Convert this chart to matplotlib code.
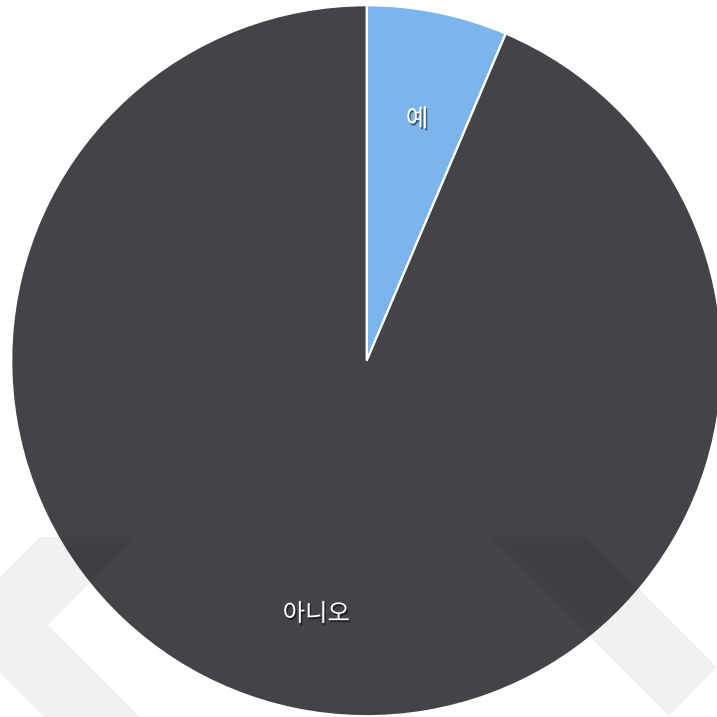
import matplotlib.pyplot as plt
import matplotlib.patheffects as pe
from matplotlib.patches import Polygon
from matplotlib.transforms import Affine2D

plt.rcParams['font.family'] = ['Noto Sans CJK KR', 'DejaVu Sans']

labels = ["예", "아니오"]
values = [6.4, 93.6]
colors = ["#7cb5ec", "#434348"]

W = 717
cx, cy, R = 366.7, 360.7, 355.5  # pie centre / radius in pixels

fig = plt.figure(figsize=(W / 100, W / 100), dpi=100)
ax = fig.add_axes([0, 0, 1, 1])

wedges, texts = ax.pie(values, labels=labels, colors=colors, startangle=90,
                       counterclock=False, radius=1, labeldistance=0.71,
                       wedgeprops=dict(edgecolor="white", linewidth=1.6),
                       textprops=dict(color="white", fontsize=17.5))
for t in texts:
    x, y = t.get_position()
    t.set_position((x, y - 6 / R))  # labels sit a bit lower in the original
    t.set_ha("center")
    t.set_va("center")
    t.set_zorder(10)
    t.set_path_effects([pe.SimplePatchShadow(offset=(1, -1.5), shadow_rgbFace="black", alpha=0.5),
                        pe.Normal()])

ax.set_xlim(-cx / R, (W - cx) / R)
ax.set_ylim((cy - W) / R, cy / R)
ax.set_aspect("equal")
ax.axis("off")

# watermark chevrons (pixel coords, y from top)
flip = Affine2D().scale(1, -1).translate(0, W)
left = [(40, 537), (135, 537), (48, 625), (140, 717), (44, 717), (-48, 625)]
right = [(490, 537), (587, 537), (717, 667), (669, 716)]
for pts in (left, right):
    ax.add_patch(Polygon(pts, closed=True, facecolor="black", alpha=0.055,
                         edgecolor="none", transform=flip, zorder=5))

fig.savefig("out.png", dpi=100)
